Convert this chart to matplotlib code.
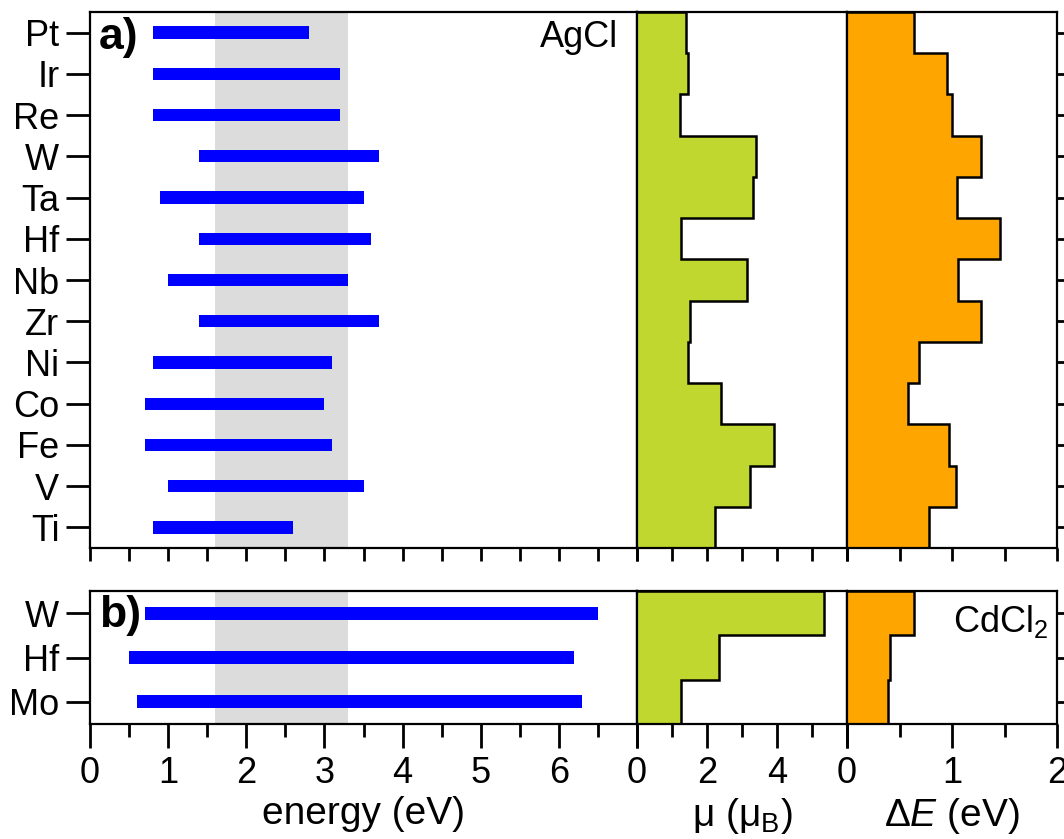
import numpy as np
import matplotlib
matplotlib.use("Agg")
from matplotlib import pyplot as plt
from matplotlib.ticker import MultipleLocator

plt.rcParams['font.family'] = ['Liberation Sans', 'DejaVu Sans']
plt.rcParams['mathtext.fontset'] = 'custom'
plt.rcParams['mathtext.rm'] = 'Liberation Sans'
plt.rcParams['mathtext.it'] = 'Liberation Sans:italic'
plt.rcParams['mathtext.bf'] = 'Liberation Sans:bold'

# panel a) AgCl, listed top to bottom
metals_a = ['Pt', 'Ir', 'Re', 'W', 'Ta', 'Hf', 'Nb', 'Zr', 'Ni', 'Co', 'Fe', 'V', 'Ti']
e_lo_a = [0.8, 0.8, 0.8, 1.4, 0.9, 1.4, 1.0, 1.4, 0.8, 0.7, 0.7, 1.0, 0.8]
e_hi_a = [2.8, 3.2, 3.2, 3.7, 3.5, 3.6, 3.3, 3.7, 3.1, 3.0, 3.1, 3.5, 2.6]
mu_a = [1.4, 1.46, 1.22, 3.4, 3.3, 1.27, 3.14, 1.52, 1.46, 2.41, 3.9, 3.24, 2.24]
de_a = [0.64, 0.95, 1.0, 1.28, 1.05, 1.46, 1.06, 1.28, 0.69, 0.58, 0.97, 1.04, 0.78]

# panel b) CdCl2
metals_b = ['W', 'Hf', 'Mo']
e_lo_b = [0.7, 0.5, 0.6]
e_hi_b = [6.5, 6.2, 6.3]
mu_b = [5.33, 2.33, 1.27]
de_b = [0.64, 0.41, 0.39]

gap_lo, gap_hi = 1.6, 3.3

W, H = 1064, 839
fig = plt.figure(figsize=(W / 100, H / 100), dpi=100)

def px_axes(x0, x1, y0, y1):
    return fig.add_axes([x0 / W, 1 - y1 / H, (x1 - x0) / W, (y1 - y0) / H])

rows = [(12, 548), (591, 724)]
cols = [(90, 637), (637, 847), (847, 1057)]

green = '#c0d72f'
orange = '#ffa500'
fs = 26
fl = 28

def style(ax):
    for s in ax.spines.values():
        s.set_linewidth(1.6)
    ax.tick_params(axis='both', which='both', direction='out', width=2.0, labelsize=fs)
    ax.tick_params(which='major', length=17)
    ax.tick_params(which='minor', length=9)
    ax.tick_params(axis='y', pad=5)
    ax.tick_params(axis='x', pad=6)

for r, (metals, lo, hi, mu, de) in enumerate([(metals_a, e_lo_a, e_hi_a, mu_a, de_a),
                                             (metals_b, e_lo_b, e_hi_b, mu_b, de_b)]):
    n = len(metals)
    y = np.arange(n)
    edges = np.arange(n + 1) - 0.5
    y0, y1 = rows[r]
    ax1 = px_axes(cols[0][0], cols[0][1], y0, y1)
    ax2 = px_axes(cols[1][0], cols[1][1], y0, y1)
    ax3 = px_axes(cols[2][0], cols[2][1], y0, y1)

    # energy range bars
    ax1.axvspan(gap_lo, gap_hi, color='#dcdcdc', lw=0, zorder=0)
    ax1.barh(y, np.array(hi) - np.array(lo), left=lo, height=0.3, color='#0000ff', zorder=2)
    ax1.set_xlim(0, 7)
    ax1.set_yticks(y)
    ax1.set_yticklabels(metals)

    # moment and energy difference steps
    ax2.stairs(mu, edges, orientation='horizontal', baseline=0, fill=True,
               facecolor=green, edgecolor='black', lw=1.8)
    ax2.set_xlim(0, 6)
    ax3.stairs(de, edges, orientation='horizontal', baseline=0, fill=True,
               facecolor=orange, edgecolor='black', lw=1.8)
    ax3.set_xlim(0, 2)

    for ax in (ax1, ax2, ax3):
        ax.set_ylim(n - 0.5, -0.5)
        style(ax)
    ax2.set_yticks([])
    ax3.yaxis.set_ticks_position('right')
    ax3.set_yticks(y)
    ax3.set_yticklabels([])

    if r == 0:
        for ax, step in ((ax1, 0.5), (ax2, 1), (ax3, 0.5)):
            ax.xaxis.set_major_locator(MultipleLocator(step))
            ax.tick_params(axis='x', which='major', length=9, labelbottom=False)
        ax1.text(0.016, 0.99, 'a)', transform=ax1.transAxes, fontsize=32,
                 weight='bold', va='top', ha='left')
        ax1.text(0.965, 0.985, 'AgCl', transform=ax1.transAxes, fontsize=fs,
                 va='top', ha='right')
    else:
        ax1.set_xticks(range(0, 8))
        ax1.set_xticklabels([str(i) for i in range(0, 7)] + [''])
        ax1.xaxis.set_minor_locator(MultipleLocator(0.5))
        ax2.set_xticks([0, 2, 4, 6])
        ax2.set_xticklabels(['0', '2', '4', ''])
        ax2.xaxis.set_minor_locator(MultipleLocator(1))
        ax3.set_xticks([0, 1, 2])
        ax3.xaxis.set_minor_locator(MultipleLocator(0.5))
        ax1.text(0.016, 0.97, 'b)', transform=ax1.transAxes, fontsize=32,
                 weight='bold', va='top', ha='left')
        ax3.text(0.96, 0.91, 'CdCl$_2$', transform=ax3.transAxes, fontsize=fs,
                 va='top', ha='right')
        ax1.set_xlabel('energy (eV)', fontsize=fl, labelpad=4)
        ax2.set_xlabel('μ (μ$_\\mathrm{B}$)', fontsize=fl, labelpad=4)
        ax3.set_xlabel('Δ$E$ (eV)', fontsize=fl, labelpad=4)

fig.savefig('out.png', dpi=100)
